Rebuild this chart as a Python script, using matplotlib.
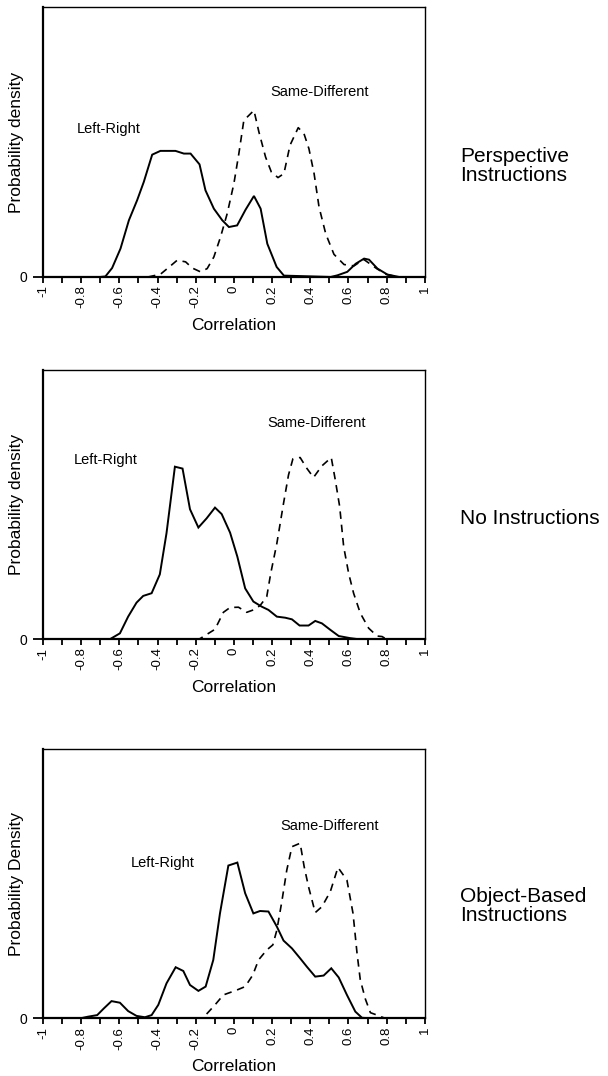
import matplotlib
matplotlib.use("Agg")
import matplotlib.pyplot as plt
import numpy as np

plt.rcParams['font.family'] = ['Liberation Sans', 'DejaVu Sans']

# tick labels on the correlation axis
tick_pos = [-1, -0.8, -0.6, -0.4, -0.2, 0, 0.2, 0.4, 0.6, 0.8, 1]
tick_labels = ['-1', '-0.8', '-0.6', '-0.4', '-0.2', '0', '0.2', '0.4', '0.6', '0.8', '1']
conditions = ['Perspective\nInstructions', 'No Instructions', 'Object-Based\nInstructions']
ylabels = ['Probability density', 'Probability density', 'Probability Density']

# perspective instructions
lr1_x = [-1.0, -0.70, -0.673, -0.638, -0.594, -0.55, -0.507, -0.472, -0.428, -0.385, -0.306, -0.262,
         -0.227, -0.18, -0.149, -0.105, -0.061, -0.026, 0.017, 0.061, 0.105, 0.14, 0.175, 0.224, 0.262,
         0.507, 0.542, 0.594, 0.638, 0.682, 0.708, 0.752, 0.804, 0.865, 1.0]
lr1_y = [0, 0, 0.002, 0.033, 0.105, 0.21, 0.284, 0.352, 0.453, 0.467, 0.467, 0.457,
         0.457, 0.417, 0.321, 0.253, 0.21, 0.185, 0.191, 0.249, 0.30, 0.253, 0.123, 0.037, 0.005,
         0, 0.006, 0.019, 0.049, 0.068, 0.064, 0.031, 0.009, 0, 0]
sd1_x = [-0.45, -0.411, -0.385, -0.332, -0.297, -0.253, -0.218, -0.175, -0.14, -0.105, -0.07, -0.035,
         0.0, 0.026, 0.052, 0.105, 0.131, 0.166, 0.196, 0.231, 0.262, 0.294, 0.337, 0.367, 0.393,
         0.42, 0.446, 0.481, 0.524, 0.577, 0.629, 0.68, 0.75, 0.80, 0.86]
sd1_y = [0, 0.006, 0.01, 0.041, 0.062, 0.056, 0.033, 0.019, 0.031, 0.074, 0.148, 0.235,
         0.346, 0.457, 0.58, 0.617, 0.537, 0.444, 0.389, 0.368, 0.383, 0.488, 0.553, 0.531, 0.475,
         0.383, 0.259, 0.16, 0.084, 0.046, 0.041, 0.065, 0.03, 0.009, 0]

# no instructions
lr2_x = [-1, -0.65, -0.597, -0.554, -0.51, -0.475, -0.431, -0.388, -0.353, -0.309, -0.269, -0.23,
         -0.186, -0.143, -0.099, -0.064, -0.02, 0.018, 0.059, 0.102, 0.146, 0.181, 0.225, 0.269,
         0.304, 0.344, 0.391, 0.426, 0.461, 0.505, 0.549, 0.61, 0.654, 1]
lr2_y = [0, 0, 0.022, 0.084, 0.136, 0.161, 0.171, 0.241, 0.394, 0.641, 0.634, 0.483,
         0.415, 0.449, 0.489, 0.465, 0.396, 0.307, 0.189, 0.14, 0.121, 0.109, 0.084, 0.08,
         0.074, 0.051, 0.051, 0.068, 0.059, 0.035, 0.012, 0.004, 0, 0]
sd2_x = [-0.2, -0.178, -0.099, -0.055, -0.02, 0.024, 0.067, 0.102, 0.137, 0.172, 0.193, 0.225,
         0.26, 0.286, 0.309, 0.347, 0.382, 0.417, 0.461, 0.51, 0.531, 0.554, 0.575, 0.601,
         0.627, 0.662, 0.706, 0.75, 0.776, 0.8]
sd2_y = [0, 0.002, 0.037, 0.1, 0.118, 0.119, 0.1, 0.109, 0.125, 0.158, 0.245, 0.356,
         0.505, 0.61, 0.67, 0.675, 0.635, 0.601, 0.644, 0.675, 0.592, 0.493, 0.344, 0.245,
         0.171, 0.097, 0.041, 0.012, 0.01, 0]

# object-based instructions
lr3_x = [-1, -0.804, -0.765, -0.716, -0.681, -0.641, -0.597, -0.554, -0.51, -0.466, -0.431, -0.396,
         -0.353, -0.305, -0.265, -0.23, -0.186, -0.148, -0.108, -0.073, -0.029, 0.018, 0.059, 0.102,
         0.137, 0.181, 0.225, 0.26, 0.304, 0.347, 0.382, 0.426, 0.47, 0.51, 0.549, 0.592, 0.636,
         0.671, 0.715, 1]
lr3_y = [0, 0, 0.006, 0.012, 0.037, 0.064, 0.058, 0.027, 0.009, 0.004, 0.012, 0.05,
         0.13, 0.19, 0.176, 0.124, 0.102, 0.118, 0.217, 0.39, 0.568, 0.579, 0.465, 0.39,
         0.399, 0.397, 0.341, 0.289, 0.26, 0.223, 0.192, 0.155, 0.159, 0.186, 0.152, 0.087, 0.025,
         0.002, 0, 0]
sd3_x = [-0.143, -0.099, -0.055, 0.015, 0.059, 0.099, 0.129, 0.172, 0.204, 0.225, 0.251, 0.277,
         0.304, 0.347, 0.368, 0.391, 0.426, 0.461, 0.505, 0.545, 0.592, 0.624, 0.645, 0.662,
         0.689, 0.715, 0.75, 0.785]
sd3_y = [0.016, 0.05, 0.087, 0.105, 0.118, 0.161, 0.217, 0.254, 0.273, 0.328, 0.434, 0.551,
         0.638, 0.651, 0.564, 0.489, 0.393, 0.415, 0.471, 0.561, 0.514, 0.39, 0.242, 0.143,
         0.071, 0.021, 0.012, 0.002]

# where the curve names go, in data units
lr_text = [(-0.657, 0.549), (-0.673, 0.666), (-0.375, 0.576)]
sd_text = [(0.451, 0.685), (0.431, 0.802), (0.5, 0.715)]


def draw_panel(ax, lr_x, lr_y, sd_x, sd_y, ylabel, lr_pos, sd_pos):
    ax.plot(lr_x, lr_y, color='black', lw=1.4, solid_joinstyle='miter')
    ax.plot(sd_x, sd_y, color='black', lw=1.2, linestyle=(0, (4.5, 3.5)))
    ax.set_xlim(-1, 1)
    ax.set_ylim(0, 1)

    # thick left / bottom frame, thin top / right
    ax.spines['left'].set_linewidth(1.6)
    ax.spines['bottom'].set_linewidth(1.6)
    ax.spines['top'].set_linewidth(1.0)
    ax.spines['right'].set_linewidth(1.0)

    ax.set_xticks(tick_pos)
    ax.set_xticklabels(tick_labels, rotation=90, fontsize=9.5)
    ax.set_xticks(np.arange(-0.9, 1.0, 0.2), minor=True)
    ax.tick_params(axis='x', which='both', direction='out', length=4, width=1.3, pad=2)
    ax.set_yticks([0])
    ax.set_yticklabels(['0'], fontsize=10)
    ax.tick_params(axis='y', direction='out', length=7, width=1.3, pad=4)

    ax.set_xlabel('Correlation', fontsize=12.5, va='top')
    ax.xaxis.set_label_coords(0.5, -0.152)
    ax.set_ylabel(ylabel, fontsize=12.5)
    ax.yaxis.set_label_coords(-0.05, 0.5)

    ax.text(lr_pos[0], lr_pos[1], 'Left-Right', fontsize=10.5, ha='center', va='center')
    ax.text(sd_pos[0], sd_pos[1], 'Same-Different', fontsize=10.5, ha='center', va='center')


fig = plt.figure(figsize=(6.08, 10.76), dpi=100)

ax1 = fig.add_axes([0.0707, 0.7426, 0.628, 0.2509])
ax2 = fig.add_axes([0.0707, 0.4059, 0.628, 0.2502])
ax3 = fig.add_axes([0.0707, 0.0536, 0.628, 0.2500])

draw_panel(ax1, lr1_x, lr1_y, sd1_x, sd1_y, ylabels[0], lr_text[0], sd_text[0])
draw_panel(ax2, lr2_x, lr2_y, sd2_x, sd2_y, ylabels[1], lr_text[1], sd_text[1])
draw_panel(ax3, lr3_x, lr3_y, sd3_x, sd3_y, ylabels[2], lr_text[2], sd_text[2])

# condition names to the right of each panel
fig.text(0.7566, 1 - 166 / 1076, conditions[0], fontsize=15, va='center', ha='left', linespacing=1.0)
fig.text(0.7566, 1 - 519 / 1076, conditions[1], fontsize=15, va='center', ha='left')
fig.text(0.7566, 1 - 906 / 1076, conditions[2], fontsize=15, va='center', ha='left', linespacing=1.0)

fig.savefig('out.png', dpi=100)
